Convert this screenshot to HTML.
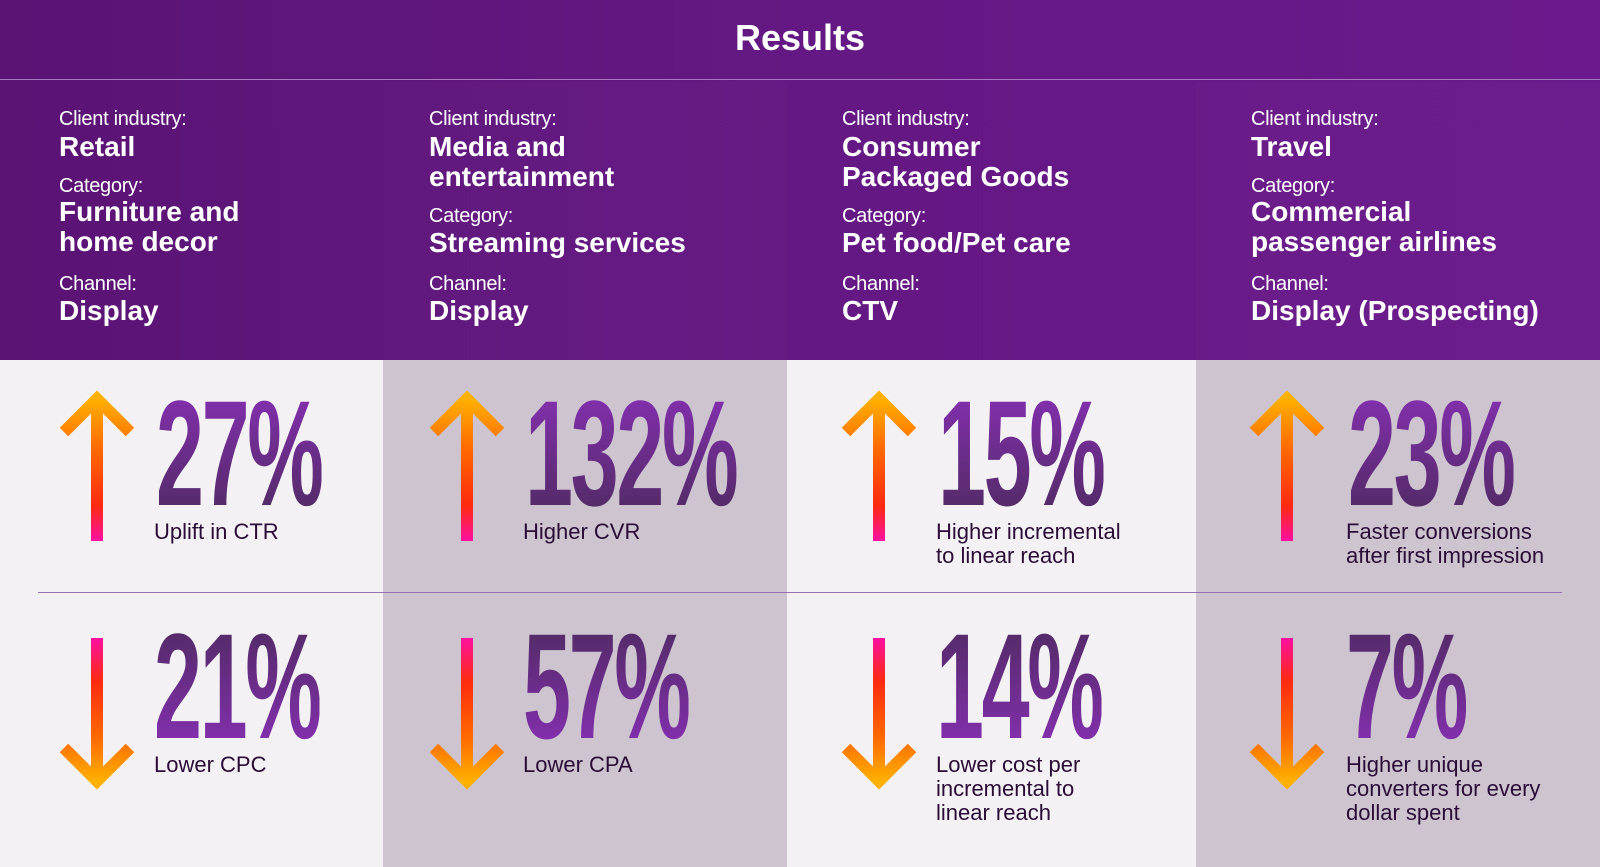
<!DOCTYPE html>
<html><head><meta charset="utf-8"><style>
*{margin:0;padding:0;box-sizing:border-box}
body{width:1600px;height:867px;overflow:hidden;position:relative;font-family:"Liberation Sans",sans-serif;background:#f3f1f4}
.abs{position:absolute}
#top{left:0;top:0;width:1600px;height:360px;background:linear-gradient(90deg,#5a1474 0%,#641883 50%,#6a1a8c 100%)}
.lab{position:absolute;color:#fff;font-size:20px;white-space:nowrap;letter-spacing:-0.3px}
.val{position:absolute;color:#fff;font-size:28px;font-weight:bold;line-height:30px;white-space:nowrap}
.bg{position:absolute;top:360px;height:507px}
.num{position:absolute;font-weight:bold;font-size:150px;line-height:150px;transform-origin:0 0;transform:scaleX(0.575);-webkit-background-clip:text;background-clip:text;color:transparent;letter-spacing:-4px}
.up{background-image:linear-gradient(180deg,#8a30b8 0%,#4c2a5c 100%)}
.dn{background-image:linear-gradient(180deg,#4c2a5c 0%,#8a30b8 100%)}
.desc{position:absolute;font-size:22px;line-height:24px;color:#2a0c36;white-space:nowrap}
</style></head><body>
<div id="top" class="abs"></div>
<div class="abs" style="left:383px;top:82px;width:404px;height:278px;background:rgba(255,255,255,0.015)"></div>
<div class="abs" style="left:1196px;top:82px;width:404px;height:278px;background:rgba(255,255,255,0.015)"></div>
<div class="abs" style="left:0;width:1600px;text-align:center;top:17px;color:#fff;font-size:36px;font-weight:bold">Results</div>
<div class="abs" style="left:0;top:79px;width:1600px;height:1px;background:#a57cc0"></div>

<div class="bg" style="left:383px;width:404px;background:#cdc4d0"></div>
<div class="bg" style="left:1196px;width:404px;background:#cdc4d0"></div>
<div class="abs" style="left:38px;top:592px;width:1524px;height:1px;background:#9b6fb5"></div>

<div>
<div class="lab" style="left:59px;top:108px">Client industry:</div>
<div class="val" style="left:59px;top:132px">Retail</div>
<div class="lab" style="left:59px;top:175px">Category:</div>
<div class="val" style="left:59px;top:197px">Furniture and<br>home decor</div>
<div class="lab" style="left:59px;top:273px">Channel:</div>
<div class="val" style="left:59px;top:296px">Display</div>
</div>
<div>
<div class="lab" style="left:429px;top:108px">Client industry:</div>
<div class="val" style="left:429px;top:132px">Media and<br>entertainment</div>
<div class="lab" style="left:429px;top:205px">Category:</div>
<div class="val" style="left:429px;top:228px">Streaming services</div>
<div class="lab" style="left:429px;top:273px">Channel:</div>
<div class="val" style="left:429px;top:296px">Display</div>
</div>
<div>
<div class="lab" style="left:842px;top:108px">Client industry:</div>
<div class="val" style="left:842px;top:132px">Consumer<br>Packaged Goods</div>
<div class="lab" style="left:842px;top:205px">Category:</div>
<div class="val" style="left:842px;top:228px">Pet food/Pet care</div>
<div class="lab" style="left:842px;top:273px">Channel:</div>
<div class="val" style="left:842px;top:296px">CTV</div>
</div>
<div>
<div class="lab" style="left:1251px;top:108px">Client industry:</div>
<div class="val" style="left:1251px;top:132px">Travel</div>
<div class="lab" style="left:1251px;top:175px">Category:</div>
<div class="val" style="left:1251px;top:197px">Commercial<br>passenger airlines</div>
<div class="lab" style="left:1251px;top:273px">Channel:</div>
<div class="val" style="left:1251px;top:296px">Display (Prospecting)</div>
</div>

<svg class="abs" style="left:0;top:0" width="1600" height="867">
<defs>
<linearGradient id="gu" x1="0" y1="0" x2="0" y2="1"><stop offset="0" stop-color="#ffb000"/><stop offset="0.35" stop-color="#ff6a00"/><stop offset="0.75" stop-color="#ff2a10"/><stop offset="1" stop-color="#ff10a0"/></linearGradient>
<linearGradient id="gd" x1="0" y1="0" x2="0" y2="1"><stop offset="0" stop-color="#ff10a0"/><stop offset="0.3" stop-color="#ff2a10"/><stop offset="0.7" stop-color="#ff6a00"/><stop offset="1" stop-color="#ffb000"/></linearGradient>
</defs>
<g id="arr"></g>
</svg>
<div id="stats"></div>

<script>
const colX=[97,467,879,1287];
const numX=[156,525,938,1348];
const topVals=['27%','132%','15%','23%'];
const topDesc=['Uplift in CTR','Higher CVR','Higher incremental<br>to linear reach','Faster conversions<br>after first impression'];
const botVals=['21%','57%','14%','7%'];
const botDesc=['Lower CPC','Lower CPA','Lower cost per<br>incremental to<br>linear reach','Higher unique<br>converters for every<br>dollar spent'];
const g=document.getElementById('arr');
const st=document.getElementById('stats');
function arrow(x,y1,y2,up,i){
  const ns='http://www.w3.org/2000/svg';
  const p=document.createElementNS(ns,'path');
  const t=up?y1:y2, s=up?1:-1;
  p.setAttribute('d',`M${x} ${up?y2:y1} L${x} ${t+s*3} M${x-33} ${t+s*36} L${x} ${t+s*3} L${x+33} ${t+s*36}`);
  p.setAttribute('stroke',up?'url(#gu)':'url(#gd)');
  p.setAttribute('stroke-width','12');p.setAttribute('fill','none');
  
  
  g.appendChild(p);
}
for(let i=0;i<4;i++){
  arrow(colX[i],396,541,true,i);
  arrow(colX[i],638,784,false,i);
  const n=document.createElement('div');
  n.className='num up';n.style.left=numX[i]+'px';n.style.top='378px';n.textContent=topVals[i];
  
  
  st.appendChild(n);
  const d=document.createElement('div');
  d.className='desc';d.style.left=(numX[i]-2)+'px';d.style.top='520px';d.innerHTML=topDesc[i];
  
  
  st.appendChild(d);
  const n2=document.createElement('div');
  n2.className='num dn';n2.style.left=(numX[i]-2)+'px';n2.style.top='611px';n2.textContent=botVals[i];
  
  
  st.appendChild(n2);
  const d2=document.createElement('div');
  d2.className='desc';d2.style.left=(numX[i]-2)+'px';d2.style.top='753px';d2.innerHTML=botDesc[i];
  
  
  st.appendChild(d2);
}
</script>
</body></html>
